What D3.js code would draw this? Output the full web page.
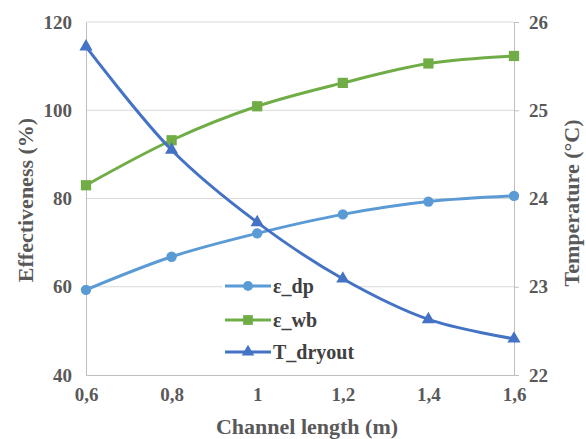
<!DOCTYPE html>
<html>
<head>
<meta charset="utf-8">
<script src="https://cdn.jsdelivr.net/npm/d3@7"></script>
<style>
  body { margin: 0; background: #fff; }
</style>
</head>
<body>
<div id="chart"></div>
<script>
const lengths = [0.6, 0.8, 1.0, 1.2, 1.4, 1.6];
const epsDp = [59.3, 66.8, 72.1, 76.4, 79.3, 80.6];
const epsWb = [83.0, 93.2, 100.9, 106.2, 110.6, 112.3];
const tDryout = [25.72, 24.55, 23.73, 23.09, 22.63, 22.41];
const leftTicks = [40, 60, 80, 100, 120];
const rightTicks = [22, 23, 24, 25, 26];
const xTicks = [0.6, 0.8, 1.0, 1.2, 1.4, 1.6];

const w = 586, h = 439;
const plotLeft = 86, plotRight = 514, plotTop = 22, plotBottom = 375;
const grey = '#595959';
const serif = '"Liberation Serif"';

const svg = d3.select('#chart').append('svg').attr('width', w).attr('height', h);

const x = d3.scaleLinear().domain([0.6, 1.6]).range([plotLeft, plotRight]);
const yL = d3.scaleLinear().domain([40, 120]).range([plotBottom, plotTop]);
const yR = d3.scaleLinear().domain([22, 26]).range([plotBottom, plotTop]);
const fmt = d => String(d).replace('.', ',');

// gridlines
svg.append('g').selectAll('line').data(leftTicks.slice(1)).enter().append('line')
  .attr('x1', plotLeft).attr('x2', plotRight)
  .attr('y1', d => yL(d)).attr('y2', d => yL(d))
  .attr('stroke', '#d9d9d9').attr('stroke-width', 1);

// axes
const xAxis = svg.append('g').attr('transform', 'translate(0,' + plotBottom + ')')
  .call(d3.axisBottom(x).tickValues(xTicks).tickFormat(fmt).tickSize(0).tickPadding(13));
const yAxisL = svg.append('g').attr('transform', 'translate(' + plotLeft + ',0)')
  .call(d3.axisLeft(yL).tickValues(leftTicks).tickSize(0).tickPadding(14));
const yAxisR = svg.append('g').attr('transform', 'translate(' + plotRight + ',0)')
  .call(d3.axisRight(yR).tickValues(rightTicks).tickFormat(d3.format('d')).tickSize(5).tickPadding(10));

[xAxis, yAxisL, yAxisR].forEach(g => {
  g.attr('font-family', serif).attr('font-size', 19).attr('font-weight', 'bold');
  g.select('.domain').attr('stroke', '#bfbfbf');
  g.selectAll('.tick line').attr('stroke', '#bfbfbf');
  g.selectAll('.tick text').attr('fill', grey)
    .style('font-family', serif).style('font-weight', 'bold').style('font-size', '19px');
});

// axis titles
const title = (sel) => sel.attr('fill', grey).style('font-family', serif)
  .style('font-weight', 'bold').style('font-size', '22px').attr('text-anchor', 'middle');
svg.append('text').attr('x', 307).attr('y', 434).call(title).text('Channel length (m)');
svg.append('text').attr('transform', 'translate(33,200) rotate(-90)').call(title).text('Effectiveness (%)');
svg.append('text').attr('transform', 'translate(579,203) rotate(-90)').call(title).text('Temperature (°C)');

const series = [
  { name: 'ε_dp', values: epsDp, y: yL, color: '#5B9BD5', shape: d3.symbolCircle, size: 85 },
  { name: 'ε_wb', values: epsWb, y: yL, color: '#70AD47', shape: d3.symbolSquare, size: 105 },
  { name: 'T_dryout', values: tDryout, y: yR, color: '#4472C4', shape: d3.symbolTriangle, size: 75 }
];

// legend background + entries
const legY = [286, 320, 352];
svg.append('rect').attr('x', 222).attr('y', 270).attr('width', 132).attr('height', 98).attr('fill', '#fff');
series.forEach((s, i) => {
  const g = svg.append('g');
  g.append('line').attr('x1', 225).attr('x2', 271).attr('y1', legY[i]).attr('y2', legY[i])
    .attr('stroke', s.color).attr('stroke-width', 3);
  g.append('path').attr('d', d3.symbol().type(s.shape).size(s.size * 0.9))
    .attr('transform', 'translate(248,' + legY[i] + ')').attr('fill', s.color);
  g.append('text').attr('x', 273).attr('y', legY[i]).attr('dy', '0.33em')
    .attr('fill', '#404040').style('font-family', serif).style('font-weight', 'bold')
    .style('font-size', '20px').text(s.name);
});

// lines and markers
series.forEach(s => {
  const line = d3.line().x((d, i) => x(lengths[i])).y(d => s.y(d)).curve(d3.curveCatmullRom.alpha(0.5));
  svg.append('path').datum(s.values).attr('d', line)
    .attr('fill', 'none').attr('stroke', s.color).attr('stroke-width', 3);
  svg.append('g').selectAll('path').data(s.values).enter().append('path')
    .attr('d', d3.symbol().type(s.shape).size(s.size))
    .attr('transform', (d, i) => 'translate(' + x(lengths[i]) + ',' + s.y(d) + ')')
    .attr('fill', s.color);
});
</script>
</body>
</html>
